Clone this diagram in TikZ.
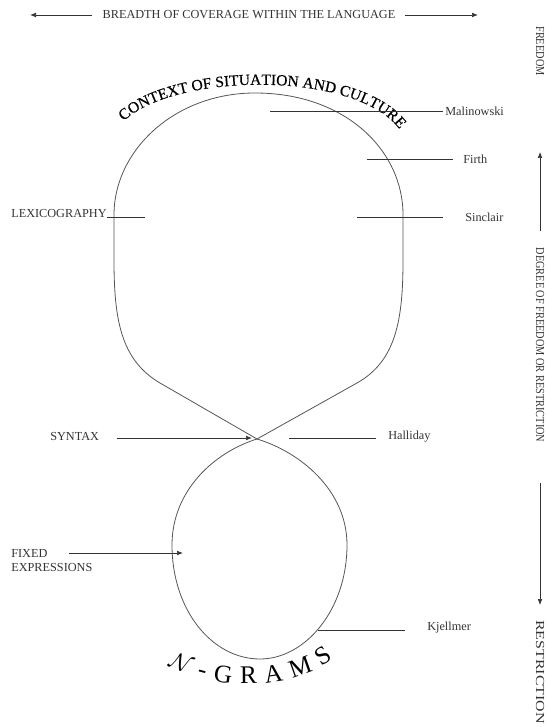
\documentclass[tikz,border=0pt]{standalone}
\usepackage{fontspec}
\setmainfont{Liberation Serif}
\newfontfamily\heavyserif[FakeBold=0.4]{Liberation Serif}
\usepackage{tikz}
\usetikzlibrary{arrows.meta,decorations.text}
\definecolor{loopgray}{HTML}{555555}
\definecolor{labelgray}{HTML}{333333}
\newcommand{\lblsize}{\fontsize{9.2}{11}\selectfont}
\newcommand{\arcfont}{\heavyserif\fontsize{11.6}{13}\selectfont}
\newcommand{\gramfont}{\fontsize{19}{21}\selectfont}

\begin{document}
\begin{tikzpicture}[x=0.75pt,y=-0.75pt,>={Latex[length=4.5pt,width=3.5pt]},
  lbl/.style={font=\lblsize,text=labelgray,inner sep=0pt},
  pointer/.style={black!80,line width=0.5pt},
  loopline/.style={loopgray,line width=0.6pt}]
  \useasboundingbox (0,0) rectangle (547,727);
  % breadth axis
  \node[lbl] (breadth) at (249,15) {BREADTH OF COVERAGE WITHIN THE LANGUAGE};
  \coordinate (bleft) at (30,15);
  \coordinate (bright) at (478,15);
  \draw[pointer,->,shorten <=8pt] (breadth.west) -- (bleft);
  \draw[pointer,->,shorten <=7pt] (breadth.east) -- (bright);
  % freedom axis
  \node[lbl,rotate=-90,xscale=0.84] (freedom) at (540,51) {FREEDOM};
  \node[lbl,rotate=-90,xscale=0.84] (degree) at (540,345) {DEGREE OF FREEDOM OR RESTRICTION};
  \node[lbl,rotate=-90,xscale=1.3,anchor=west] (restr) at (540,620) {RESTRICTION};
  \coordinate (uptip) at (540,152);
  \coordinate (downtip) at (540,605);
  \draw[pointer,->,shorten <=12pt] (degree.west) -- (uptip);
  \draw[pointer,->,shorten <=30pt] (degree.east) -- (downtip);
  % the loops
  \coordinate (cross) at (257,439);
  \draw[loopline] (cross) -- (357,383)
    .. controls (396,361) and (403,320) .. (403,260)
    -- (403,215)
    .. controls (403,150) and (345,93) .. (255,93)
    .. controls (175,93) and (114,150) .. (114,215)
    -- (114,260)
    .. controls (114,320) and (121,360) .. (160,383)
    -- (cross);
  \draw[loopline] (cross)
    .. controls (300,452) and (347,490) .. (347,545)
    .. controls (347,610) and (305,659) .. (260,659)
    .. controls (212,659) and (172,610) .. (172,545)
    .. controls (172,490) and (215,452) .. (cross);
  % curved headings
  \path[decorate,decoration={text along path,text align=center,
    text={|\arcfont|CONTEXT OF SITUATION AND CULTURE}}]
    (123,122) .. controls (173,72) and (357,70) .. (400,130);
  \path[decorate,decoration={text along path,text align={fit to path},
    text={|\gramfont|{$\mathcal{N}$}-GRAMS}}]
    (168,665) .. controls (214,691) and (290,691) .. (333,659);
  % right-hand names
  \coordinate (malpt) at (270,111);
  \node[lbl,anchor=west] (malinowski) at (445,111) {Malinowski};
  \draw[pointer,shorten >=1.5pt] (malpt) -- (malpt -| malinowski.west);
  \coordinate (firpt) at (367,159);
  \node[lbl,anchor=west] (firth) at (463,159) {Firth};
  \draw[pointer,shorten >=7.5pt] (firpt) -- (firpt -| firth.west);
  \coordinate (sinpt) at (357,217);
  \node[lbl,anchor=west] (sinclair) at (465,217) {Sinclair};
  \draw[pointer,shorten >=16.5pt] (sinpt) -- (sinpt -| sinclair.west);
  \coordinate (halpt) at (289,438);
  \node[lbl,anchor=west] (halliday) at (388,437) {Halliday};
  \draw[pointer,shorten >=9pt] (halpt) -- (halpt -| halliday.west);
  \coordinate (kjept) at (318,630);
  \node[lbl,anchor=west] (kjellmer) at (427,628) {Kjellmer};
  \draw[pointer,shorten >=16.5pt] (kjept) -- (kjept -| kjellmer.west);
  % left-hand names
  \node[lbl,anchor=west] (lexico) at (11,213) {LEXICOGRAPHY};
  \coordinate (lexpt) at (145,217);
  \draw[pointer] (lexpt -| lexico.east) -- (lexpt);
  \node[lbl,anchor=west] (syntax) at (50,436) {SYNTAX};
  \coordinate (syntip) at (252,438);
  \draw[pointer,->,shorten <=13pt] (syntip -| syntax.east) -- (syntip);
  \node[lbl,anchor=west] (fixed) at (11,553) {FIXED};
  \node[lbl,anchor=west] (express) at (11,567) {EXPRESSIONS};
  \coordinate (fixtip) at (183,553);
  \draw[pointer,->,shorten <=16pt] (fixtip -| fixed.east) -- (fixtip);
\end{tikzpicture}
\end{document}
